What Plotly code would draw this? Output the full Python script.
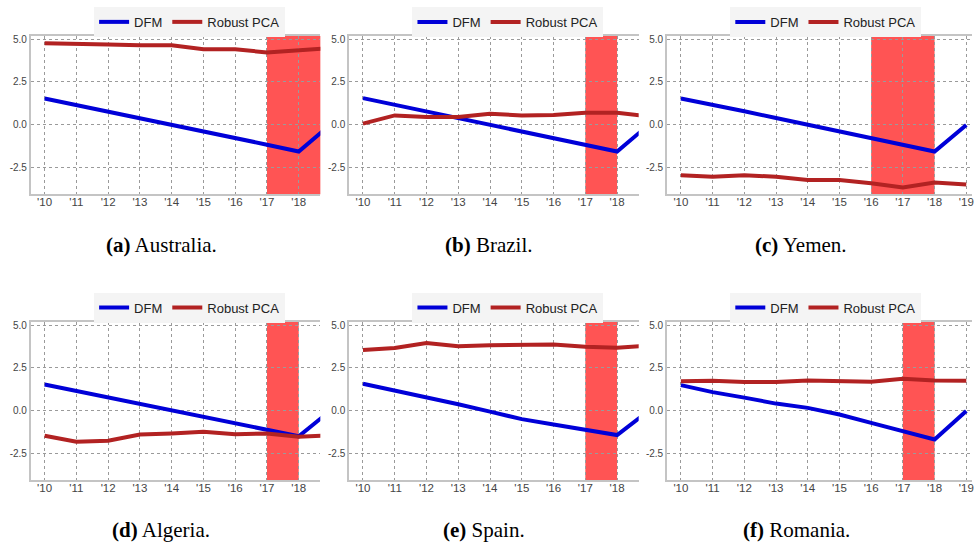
import plotly.graph_objects as go

# ---------------- data ----------------
years = [2010, 2011, 2012, 2013, 2014, 2015, 2016, 2017, 2018, 2019]
xtick_labels = ["'10", "'11", "'12", "'13", "'14", "'15", "'16", "'17", "'18", "'19"]
ytick_vals = [5.0, 2.5, 0.0, -2.5]
ytick_labels = ["5.0", "2.5", "0.0", "-2.5"]

countries = ["Australia", "Brazil", "Yemen", "Algeria", "Spain", "Romania"]
panel_letters = ["a", "b", "c", "d", "e", "f"]
series_names = ["DFM", "Robust PCA"]

dfm_australia = [1.53, 1.15, 0.77, 0.38, 0.00, -0.38, -0.77, -1.17, -1.57, 0.00]
rpca_australia = [4.76, 4.70, 4.68, 4.64, 4.64, 4.41, 4.41, 4.22, 4.33, 4.48]

dfm_brazil = [1.55, 1.16, 0.77, 0.38, 0.00, -0.38, -0.77, -1.17, -1.57, 0.00]
rpca_brazil = [0.06, 0.54, 0.45, 0.45, 0.64, 0.54, 0.56, 0.70, 0.70, 0.49]

dfm_yemen = [1.53, 1.17, 0.78, 0.39, 0.00, -0.39, -0.78, -1.17, -1.57, -0.02]
rpca_yemen = [-2.95, -3.05, -2.95, -3.05, -3.24, -3.24, -3.43, -3.67, -3.38, -3.50]

dfm_algeria = [1.53, 1.15, 0.77, 0.40, 0.00, -0.38, -0.77, -1.15, -1.50, 0.00]
rpca_algeria = [-1.47, -1.82, -1.76, -1.40, -1.34, -1.24, -1.38, -1.34, -1.53, -1.45]

dfm_spain = [1.57, 1.18, 0.79, 0.37, -0.06, -0.50, -0.81, -1.10, -1.43, 0.00]
rpca_spain = [3.55, 3.66, 3.95, 3.76, 3.82, 3.82, 3.86, 3.74, 3.68, 3.80]

dfm_romania = [1.49, 1.08, 0.76, 0.41, 0.16, -0.23, -0.72, -1.22, -1.69, -0.02]
rpca_romania = [1.72, 1.74, 1.67, 1.67, 1.76, 1.71, 1.69, 1.86, 1.76, 1.74]

dfm_values = [dfm_australia, dfm_brazil, dfm_yemen, dfm_algeria, dfm_spain, dfm_romania]
rpca_values = [rpca_australia, rpca_brazil, rpca_yemen, rpca_algeria, rpca_spain, rpca_romania]

shade_start = [2017, 2017, 2016, 2017, 2017, 2017]
shade_end = [2019, 2018, 2018, 2018, 2018, 2018]

# ---------------- layout geometry (pixels) ----------------
W, H = 974, 545
col_px = [(30.7, 321.0), (349.7, 640.0), (668.3, 974.0)]
row_px = [(34.0, 193.0), (321.0, 480.0)]
x_ranges = [(2009.56, 2018.68), (2009.56, 2018.68), (2009.56, 2019.18)]
y_range = (-4.07, 5.19)
legend_cx = [190, 509, 827.5]
legend_cy = [20, 306.7]
caption_cx = [162, 490, 803, 161, 485, 798]
caption_cy = [244, 530]

BLUE = "#0000d8"
RED = "#b22222"
SHADE = "rgba(255,0,0,0.67)"
GRID = "#9a9a9a"
AXLINE = "#c4c4c4"
TICKCOL = "#444444"

fig = go.Figure()
layout = dict(
    width=W, height=H,
    margin=dict(l=0, r=0, t=0, b=0),
    paper_bgcolor="white", plot_bgcolor="white",
    showlegend=True,
    font=dict(family="Liberation Sans, Arial, sans-serif", size=11, color=TICKCOL),
)
shapes = []
annotations = []

for i in range(6):
    r, c = divmod(i, 3)
    n = i + 1
    xa = "x" if n == 1 else f"x{n}"
    ya = "y" if n == 1 else f"y{n}"
    leg = "legend" if n == 1 else f"legend{n}"
    x0p, x1p = col_px[c]
    y0p, y1p = row_px[r]

    layout["xaxis" if n == 1 else f"xaxis{n}"] = dict(
        domain=[x0p / W, x1p / W], anchor=ya,
        range=list(x_ranges[c]),
        tickvals=years, ticktext=xtick_labels,
        showgrid=True, gridcolor=GRID, griddash="dot", gridwidth=1,
        zeroline=False, showline=True, linecolor=AXLINE, linewidth=1.5, mirror=True,
        ticks="", tickfont=dict(size=11.5, color=TICKCOL), ticklabelstandoff=-4,
        ticklabeloverflow="allow",
    )
    layout["yaxis" if n == 1 else f"yaxis{n}"] = dict(
        domain=[1 - y1p / H, 1 - y0p / H], anchor=xa,
        range=list(y_range),
        tickvals=ytick_vals, ticktext=ytick_labels,
        showgrid=True, gridcolor=GRID, griddash="dot", gridwidth=1,
        zeroline=False, showline=True, linecolor=AXLINE, linewidth=1.5,
        ticks="", tickfont=dict(size=10, color=TICKCOL),
        ticklabeloverflow="allow",
    )
    layout[leg] = dict(
        x=legend_cx[c] / W, y=1 - legend_cy[r] / H,
        xanchor="center", yanchor="middle", orientation="h",
        bgcolor="#f4f4f4", borderwidth=0,
        font=dict(family="Liberation Sans, Arial, sans-serif", size=13, color="#222222"),
        itemwidth=30, tracegroupgap=0,
    )

    shapes.append(dict(
        type="rect", xref=xa, yref=f"{ya} domain",
        x0=shade_start[i], x1=shade_end[i], y0=0, y1=1,
        fillcolor=SHADE, line=dict(width=0), layer="below",
    ))

    fig.add_trace(go.Scatter(
        x=years, y=dfm_values[i], mode="lines", name=series_names[0],
        line=dict(color=BLUE, width=4), xaxis=xa, yaxis=ya, legend=leg,
    ))
    fig.add_trace(go.Scatter(
        x=years, y=rpca_values[i], mode="lines", name=series_names[1],
        line=dict(color=RED, width=4), xaxis=xa, yaxis=ya, legend=leg,
    ))

    annotations.append(dict(
        xref="paper", yref="paper",
        x=caption_cx[i] / W, y=1 - caption_cy[r] / H,
        xanchor="center", yanchor="middle", showarrow=False,
        text=f"<b>({panel_letters[i]})</b> {countries[i]}.",
        font=dict(family="Liberation Serif, Times New Roman, serif", size=21, color="black"),
    ))

layout["shapes"] = shapes
layout["annotations"] = annotations
fig.update_layout(**layout)
fig.write_html(
    "out.html",
    config={"displayModeBar": False},
    post_script="document.body.style.margin='0';document.body.style.overflow='hidden';",
)
